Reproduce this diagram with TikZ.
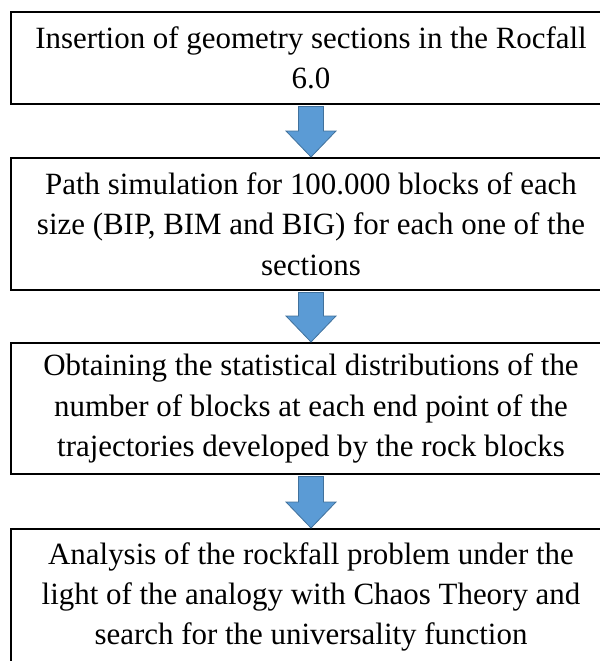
\documentclass[tikz,border=0pt]{standalone}
\usepackage{fontspec}
\setmainfont{Liberation Serif}
\usetikzlibrary{calc}
\definecolor{arrowblue}{HTML}{5B9BD5}
\definecolor{arrowedge}{HTML}{41719C}

% block arrow from the bottom of one box to the top of the next
\newcommand{\flowarrow}[2]{%
\draw[flow] ($(#1.south)+(-12.5,1.5)$) -- ($(#1.south)+(12.5,1.5)$) -- ($(#2.north)+(12.5,-26)$) -- ($(#2.north)+(25,-26)$) -- (#2.north) -- ($(#2.north)+(-25,-26)$) -- ($(#2.north)+(-12.5,-26)$) -- cycle;}

\begin{document}
\begin{tikzpicture}[x=0.75pt, y=-0.75pt,
  stepbox/.style={draw, line width = 1.5pt, align=center, minimum width=450pt, inner sep=0pt,
    font=\fontsize{23.2pt}{30.3pt}\selectfont},
  flow/.style={fill=arrowblue, draw=arrowedge, line width = 0.6pt}]
\useasboundingbox (0,0) rectangle (600,661);
\clip (0,0) rectangle (600,661);

\node[stepbox, minimum height=69pt] (insert) at (311,58) {Insertion of geometry sections in the Rocfall\\6.0};
\node[stepbox, minimum height=99pt] (simul) at (311,224) {Path simulation for 100.000 blocks of each\\size (BIP, BIM and BIG) for each one of the\\sections};
\node[stepbox, minimum height=98.25pt] (distr) at (311,408.5) {Obtaining the statistical distributions of the\\number of blocks at each end point of the\\trajectories developed by the rock blocks};
\node[stepbox, minimum height=102pt] (chaos) at (311,597) {Analysis of the rockfall problem under the\\light of the analogy with Chaos Theory and\\search for the universality function};

\flowarrow{insert}{simul}
\flowarrow{simul}{distr}
\flowarrow{distr}{chaos}

\end{tikzpicture}
\end{document}
